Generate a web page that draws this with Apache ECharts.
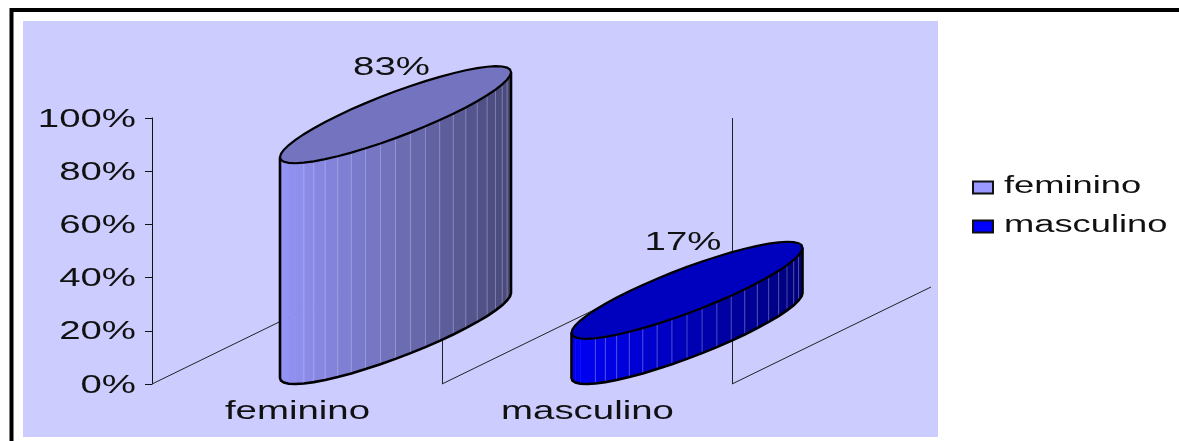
<!DOCTYPE html>
<html><head><meta charset="utf-8">
<style>html,body{margin:0;padding:0;background:#fff}#c{width:1179px;height:441px}</style>
<script src="https://cdn.jsdelivr.net/npm/echarts@6/dist/echarts.min.js"></script>
</head><body><div id="c"></div>
<script>
const categories = ['feminino', 'masculino'];
const shareValues = [83, 17];
const shareLabels = ['83%', '17%'];
const tickValues = [0, 20, 40, 60, 80, 100];
const tickLabels = ['0%', '20%', '40%', '60%', '80%', '100%'];
const baseColors = [[153, 153, 255], [0, 0, 255]];
const boundaries = [0, 1, 2];

const FONT = 'Liberation Sans, Arial, sans-serif';
const STRETCH = 1.6;
const rgb = (c, f) => 'rgb(' + c.map(v => Math.round(v * f)).join(',') + ')';

// stretched text element: alignment handled in unscaled space
function wideText(text, x, y, size, align) {
  return { type: 'text', x: x, y: y, scaleX: STRETCH, scaleY: 1.06, silent: true, z2: 50,
    style: { text: text, x: 0, y: 0, align: align, verticalAlign: 'middle',
      font: size + 'px ' + FONT, fill: '#111' } };
}

// the elliptical section of a cylinder, in pixels around its centre
const RX = 115.5, SKEW = 42.5, RY = 23.4;
const ell = (cx, cy, t) => [cx + RX * Math.cos(t), cy - SKEW * Math.cos(t) + RY * Math.sin(t)];

function cylinder(params, api) {
  const i = api.value(0), v = api.value(1);
  const zero = api.coord([i, 0]), top = api.coord([i, v]);
  const cx = zero[0] + 98.5 + i * 1.5, by = zero[1] - 48.5, h = zero[1] - top[1], ty = by - h;
  const col = baseColors[i];
  const kids = [];
  const N = 24;
  for (let k = 0; k < N; k++) {
    const t0 = Math.PI * (1 - k / N), t1 = Math.PI * (1 - (k + 1) / N);
    const a = ell(cx, by, t0), b = ell(cx, by, t1);
    const frac = (a[0] + b[0]) / 2 - (cx - RX);
    const f = 0.97 - 0.5 * frac / (2 * RX);
    kids.push({ type: 'polygon', shape: { points: [[a[0], a[1] - h], [b[0], b[1] - h], b, a] },
      style: { fill: rgb(col, f), stroke: rgb(col, f), lineWidth: 0.5 } });
    if (k > 4 && k < N - 1) {
      kids.push({ type: 'line', shape: { x1: a[0], y1: a[1] - h, x2: a[0], y2: a[1] },
        style: { stroke: 'rgba(220,220,255,0.32)', lineWidth: 1 } });
    }
  }
  // side outline
  const lower = [];
  for (let k = 0; k <= N; k++) lower.push(ell(cx, by, Math.PI * (1 - k / N)));
  const l0 = lower[0], lN = lower[N];
  kids.push({ type: 'polyline', shape: { points: [[l0[0], l0[1] - h]].concat(lower, [[lN[0], lN[1] - h]]) },
    style: { stroke: '#000', lineWidth: 2.6, fill: null } });
  // top face
  const rim = [];
  for (let k = 0; k < 2 * N; k++) rim.push(ell(cx, ty, Math.PI * k / N));
  kids.push({ type: 'polygon', shape: { points: rim },
    style: { fill: rgb(col, 0.75), stroke: '#000', lineWidth: 2.2 } });
  kids.push(wideText(shareLabels[i], cx - 4, ty - 47, 24, 'center'));
  return { type: 'group', children: kids };
}

function floorLine(params, api) {
  const b = api.value(0);
  const band = api.size([1, 0])[0];
  const p = api.coord([0, 0]);
  const x = p[0] - band / 2 + b * band;
  return { type: 'line', silent: true,
    shape: { x1: x, y1: p[1], x2: x + 199, y2: p[1] - 97 },
    style: { stroke: '#222', lineWidth: 1 } };
}

function yTickLabel(params, api) {
  const p = api.coord([0, api.value(0)]);
  const band = api.size([1, 0])[0];
  return wideText(tickLabels[params.dataIndex], p[0] - band / 2 - 16, p[1] + 1.5, 24, 'right');
}

function xTickLabel(params, api) {
  const p = api.coord([api.value(0), 0]);
  return wideText(categories[params.dataIndex], p[0] + 0.5, p[1] + 28, 24, 'center');
}

function legendItem(params) {
  const i = params.dataIndex;
  const y = 187.5 + i * 39;
  return { type: 'group', children: [
    { type: 'rect', shape: { x: 973, y: y - 6, width: 20, height: 12 },
      style: { fill: rgb(baseColors[i], 1), stroke: '#111', lineWidth: 2 } },
    wideText(categories[i], 1004, y - 1, 22.7, 'left')
  ] };
}

const chart = echarts.init(document.getElementById('c'), null, { renderer: 'canvas' });
chart.setOption({
  animation: false,
  backgroundColor: '#fff',
  graphic: [
    { type: 'rect', z: -10, shape: { x: 11.5, y: 10, width: 1200, height: 500 },
      style: { fill: '#fff', stroke: '#000', lineWidth: 4 } },
    { type: 'rect', z: -9, shape: { x: 23, y: 21, width: 915, height: 416 },
      style: { fill: '#CCCCFF' } }
  ],
  grid: { left: 152, top: 118, width: 580, height: 266 },
  xAxis: { type: 'category', data: categories, boundaryGap: true,
    axisLine: { show: false }, axisTick: { show: false }, axisLabel: { show: false },
    splitLine: { show: true, lineStyle: { color: '#222', width: 1 } } },
  yAxis: { type: 'value', min: 0, max: 100, interval: 20,
    axisLine: { show: true, lineStyle: { color: '#111', width: 1 } },
    axisTick: { show: true, length: 7, lineStyle: { color: '#111' } },
    axisLabel: { show: false }, splitLine: { show: false } },
  series: [
    { type: 'custom', name: 'piso', renderItem: floorLine, data: boundaries.map(b => [b]), encode: { x: 0 }, z: 2, clip: false },
    { type: 'custom', name: 'valores', renderItem: cylinder, data: shareValues.map((v, i) => [i, v]), encode: { x: 0, y: 1 }, z: 3, clip: false },
    { type: 'custom', name: 'eixoY', renderItem: yTickLabel, data: tickValues.map(v => [v]), encode: { y: 0 }, z: 4, clip: false },
    { type: 'custom', name: 'eixoX', renderItem: xTickLabel, data: categories.map((c, i) => [i]), encode: { x: 0 }, z: 4, clip: false },
    { type: 'custom', name: 'legenda', renderItem: legendItem, data: categories.map((c, i) => [i]), encode: { x: 0 }, z: 4, clip: false }
  ]
});
</script></body></html>
